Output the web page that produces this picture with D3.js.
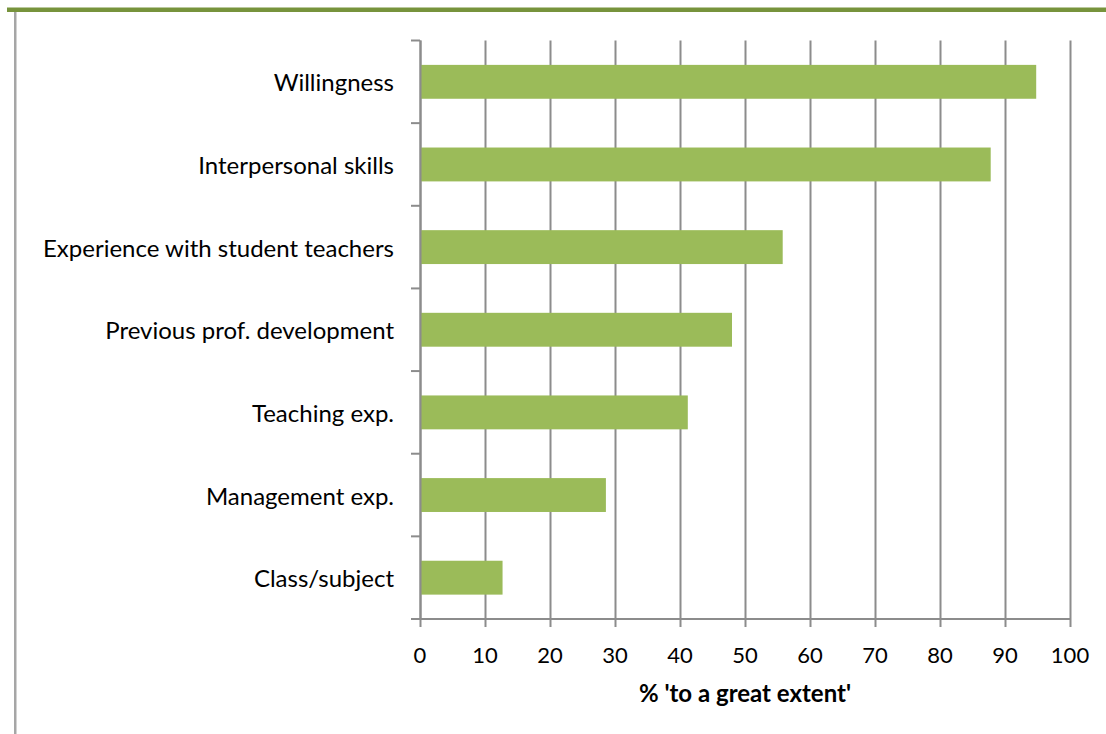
<!DOCTYPE html>
<html>
<head>
<meta charset="utf-8">
<script src="https://cdn.jsdelivr.net/npm/d3@7"></script>
<style>
  html, body { margin: 0; padding: 0; background: #fff; }
  svg { display: block; }
  text { font-family: Lato, "Open Sans", sans-serif; fill: #000; }
</style>
</head>
<body>
<svg id="chart" width="1106" height="734"></svg>
<script>
const categories = ["Willingness", "Interpersonal skills", "Experience with student teachers",
  "Previous prof. development", "Teaching exp.", "Management exp.", "Class/subject"];
const values = [94.8, 87.8, 55.8, 48, 41.2, 28.6, 12.7];
const xTicks = [0, 10, 20, 30, 40, 50, 60, 70, 80, 90, 100];
const xTitle = "% 'to a great extent'";

(function () {
const svg = d3.select("#chart");
const pLeft = 420, pRight = 1070, pTop = 40.5, pBottom = 619;

// decorative frame
svg.append("rect").attr("x", 7).attr("y", 7.5).attr("width", 1099).attr("height", 4.5).attr("fill", "#77933C");
svg.append("rect").attr("x", 14).attr("y", 12).attr("width", 2.5).attr("height", 722).attr("fill", "#A6A6A6");

const x = d3.scaleLinear().domain([0, 100]).range([pLeft, pRight]);
const y = d3.scaleBand().domain(categories).range([pTop, pBottom]).paddingInner(0.59).paddingOuter(0.295);

// gridlines
svg.append("g").selectAll("line").data(xTicks).join("line")
  .attr("x1", d => Math.round(x(d)) + 0.5).attr("x2", d => Math.round(x(d)) + 0.5)
  .attr("y1", pTop).attr("y2", pBottom + 8)
  .attr("stroke", "#8C8C8C").attr("stroke-width", 2);

// bars
svg.append("g").selectAll("rect").data(categories).join("rect")
  .attr("x", x(0) + 1).attr("y", d => y(d))
  .attr("width", (d, i) => x(values[i]) - x(0) - 1).attr("height", y.bandwidth())
  .attr("fill", "#9BBB59");

// y axis line and ticks
const step = (pBottom - pTop) / categories.length;
svg.append("line").attr("x1", pLeft + 0.5).attr("x2", pLeft + 0.5).attr("y1", pTop).attr("y2", pBottom)
  .attr("stroke", "#8C8C8C").attr("stroke-width", 2);
svg.append("g").selectAll("line").data(d3.range(categories.length + 1)).join("line")
  .attr("x1", pLeft - 9).attr("x2", pLeft)
  .attr("y1", i => pTop + i * step).attr("y2", i => pTop + i * step)
  .attr("stroke", "#8C8C8C").attr("stroke-width", 2);

// x axis line
svg.append("line").attr("x1", pLeft - 9).attr("x2", pRight + 1).attr("y1", pBottom).attr("y2", pBottom)
  .attr("stroke", "#8C8C8C").attr("stroke-width", 2);

// category labels
svg.append("g").selectAll("text").data(categories).join("text")
  .attr("x", 394).attr("y", d => y(d) + y.bandwidth() / 2)
  .attr("text-anchor", "end").attr("dominant-baseline", "central")
  .attr("font-size", 24).text(d => d);

// x tick labels
svg.append("g").selectAll("text").data(xTicks).join("text")
  .attr("x", d => x(d)).attr("y", 663)
  .attr("text-anchor", "middle").attr("font-size", 22).text(d => d);

svg.append("text").attr("x", 745).attr("y", 702).attr("text-anchor", "middle")
  .attr("font-size", 24).attr("font-weight", "bold").text(xTitle);
})();
</script>
</body>
</html>
